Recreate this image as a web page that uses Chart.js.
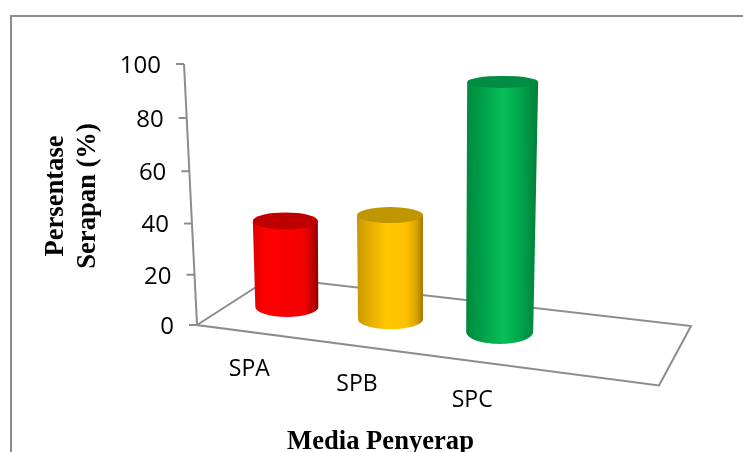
<!DOCTYPE html>
<html>
<head>
<meta charset="utf-8">
<title>Persentase Serapan</title>
<script src="https://cdn.jsdelivr.net/npm/chart.js@4"></script>
<style>
  html, body { margin: 0; background: #fff; overflow: hidden; }
  canvas { display: block; }
</style>
</head>
<body>
<canvas id="chart" width="743" height="452"></canvas>
<script>
// chart values
const categories = ["SPA", "SPB", "SPC"];
const serapan = [34, 41, 96];
const barColors = ["#ff0000", "#ffc800", "#0abf5b"];
const capColors = ["#c00000", "#c09600", "#008c42"];
const tickValues = [0, 20, 40, 60, 80, 100];

// cylinder look, one entry per bar
const topWidth = [65, 66, 71];
const baseWidth = [63, 65, 67];
const topRadiusY = [8.5, 8, 6];
const baseRadiusY = [10, 10, 12];
const topShift = [-1.5, -0.5, 3];
const baseShift = [0.5, -2.5, 0];
const labelShift = [-37, -36, -27.5];

// shading across the wall: [offset, colour], the peak is the bar colour
const wallStops = [
  [[0, "#e00000"], [0.2, null], [0.8, "#f20000"], [0.92, "#c00000"], [1, "#8e0000"]],
  [[0, "#c89600"], [0.2, "#e6ae00"], [0.45, null], [0.75, "#ffc000"], [0.9, "#d9a300"], [1, "#9c7a00"]],
  [[0, "#008a40"], [0.25, "#00a54b"], [0.5, null], [0.75, "#00a54b"], [1, "#007f3a"]]
];

const lineGray = "#8c8c8c";
const tickFont = '24px "Open Sans"';
const labelFont = '23px "Open Sans"';
const titleFont = 'bold 26.6px "Liberation Serif"';

// floor of the 3d box
const floorCorners = [[197, 325], [271, 277.5], [691, 326], [659, 385.5]];
const axisTop = 184;
const axisBottom = 197;

// value axis is a little compressed near the floor
class DepthScale extends Chart.LinearScale {
  getPixelForValue(value) {
    const d = (value - this.min) / (this.max - this.min);
    return this.getPixelForDecimal(d - 0.045 * d * (1 - d));
  }
}
DepthScale.id = "depth";
DepthScale.defaults = Chart.LinearScale.defaults;
Chart.register(DepthScale);

function drawCylinder(ctx, bar, i, color) {
  const baseX = bar.x + baseShift[i];
  const baseY = bar.base - 18 + 0.1174 * (baseX - 286.5);
  const topX = baseX + topShift[i];
  const topY = baseY - (bar.base - bar.y);
  const tw = topWidth[i] / 2;
  const bw = baseWidth[i] / 2;

  const grad = ctx.createLinearGradient(topX - tw, 0, topX + tw, 0);
  wallStops[i].forEach((s) => grad.addColorStop(s[0], s[1] || color));

  // side wall
  ctx.fillStyle = grad;
  ctx.beginPath();
  ctx.moveTo(topX - tw, topY);
  ctx.lineTo(baseX - bw, baseY);
  ctx.ellipse(baseX, baseY, bw, baseRadiusY[i], 0, Math.PI, 0, true);
  ctx.lineTo(topX + tw, topY);
  ctx.closePath();
  ctx.fill();

  // lid
  ctx.fillStyle = capColors[i];
  ctx.beginPath();
  ctx.ellipse(topX, topY, tw, topRadiusY[i], 0, 0, Math.PI * 2);
  ctx.fill();
}

const box3d = {
  id: "box3d",
  beforeDatasetsDraw(chart) {
    const ctx = chart.ctx;
    const y = chart.scales.y;
    ctx.save();

    // outer frame
    ctx.strokeStyle = lineGray;
    ctx.lineWidth = 2;
    ctx.beginPath();
    ctx.moveTo(11, 452);
    ctx.lineTo(11, 16);
    ctx.lineTo(743, 16);
    ctx.stroke();

    // floor
    ctx.beginPath();
    floorCorners.forEach((p, i) => (i ? ctx.lineTo(p[0], p[1]) : ctx.moveTo(p[0], p[1])));
    ctx.closePath();
    ctx.stroke();

    // value axis with ticks and labels
    const zero = y.getPixelForValue(0);
    const full = y.getPixelForValue(100);
    const axisX = (py) => axisBottom + (axisTop - axisBottom) * (zero - py) / (zero - full);
    ctx.beginPath();
    ctx.moveTo(axisX(full), full);
    ctx.lineTo(axisX(zero), zero);
    tickValues.forEach((v) => {
      const py = y.getPixelForValue(v);
      ctx.moveTo(axisX(py) - 8, py);
      ctx.lineTo(axisX(py), py);
    });
    ctx.stroke();

    ctx.fillStyle = "#000";
    ctx.font = tickFont;
    ctx.textAlign = "right";
    ctx.textBaseline = "middle";
    tickValues.forEach((v) => {
      const py = y.getPixelForValue(v);
      ctx.fillText(String(v), axisX(py) - 23, py + 2);
    });
    ctx.restore();
  },
  beforeDatasetDraw(chart, args) {
    const ctx = chart.ctx;
    ctx.save();
    args.meta.data.forEach((bar, i) => {
      drawCylinder(ctx, bar, i, chart.data.datasets[args.index].backgroundColor[i]);
    });
    ctx.restore();
    return false;
  },
  afterDraw(chart) {
    const ctx = chart.ctx;
    const x = chart.scales.x;
    ctx.save();
    ctx.fillStyle = "#000";
    ctx.textAlign = "center";
    ctx.textBaseline = "middle";

    // category labels follow the front edge of the floor
    ctx.font = labelFont;
    categories.forEach((name, i) => {
      const px = x.getPixelForValue(i) + labelShift[i];
      ctx.fillText(name, px, 369 + 0.14 * (px - 249));
    });

    // axis titles
    ctx.font = titleFont;
    ctx.fillText("Media Penyerap", 380.5, 442);
    ctx.translate(72, 196);
    ctx.rotate(-Math.PI / 2);
    ctx.fillText("Persentase", 0, -16);
    ctx.fillText("Serapan (%)", 0, 16);
    ctx.restore();
  }
};

new Chart(document.getElementById("chart"), {
  type: "bar",
  plugins: [box3d],
  data: {
    labels: categories,
    datasets: [{
      data: serapan,
      backgroundColor: barColors,
      categoryPercentage: 1,
      barPercentage: 0.61
    }]
  },
  options: {
    responsive: false,
    animation: false,
    layout: { padding: { left: 233, right: 190, top: 64, bottom: 127 } },
    plugins: { legend: { display: false }, tooltip: { enabled: false } },
    scales: {
      x: { display: false },
      y: { type: "depth", display: false, min: 0, max: 100, ticks: { stepSize: 20 } }
    }
  }
});
</script>
</body>
</html>
